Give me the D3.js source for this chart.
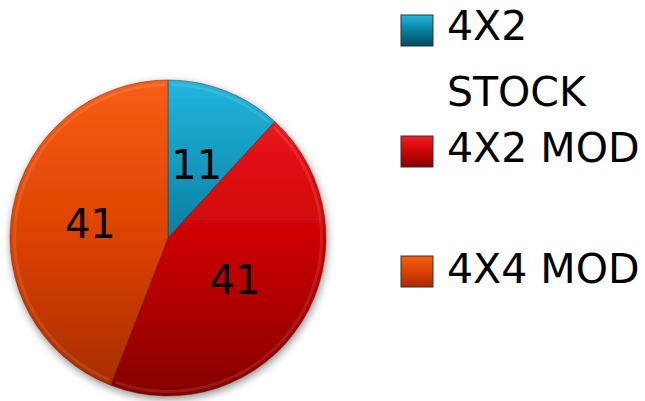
<!DOCTYPE html>
<html><head><meta charset="utf-8">
<script src="https://cdn.jsdelivr.net/npm/d3@7"></script>
<style>html,body{margin:0;padding:0;background:#fff;}svg{display:block;}</style>
</head><body>
<script>
const categories = ["4X2 STOCK", "4X2 MOD", "4X4 MOD"];
const values = [11, 41, 41];
const legendLines = [["4X2", "STOCK"], ["4X2 MOD"], ["4X4 MOD"]];
const palette = [
  ["#22b6dd", "#0a7fa0", "#004a62"],
  ["#f41c26", "#cc0404", "#860000"],
  ["#f75e16", "#dc4200", "#a42c00"]
];

const W = 645, H = 401;
const cx = 168, cy = 238, R = 158;
const svg = d3.select("body").append("svg").attr("width", W).attr("height", H);
const defs = svg.append("defs");

const f = defs.append("filter").attr("id", "sh").attr("x", "-20%").attr("y", "-20%").attr("width", "140%").attr("height", "140%");
f.append("feGaussianBlur").attr("in", "SourceAlpha").attr("stdDeviation", 4).attr("result", "b");
f.append("feOffset").attr("in", "b").attr("dx", 1).attr("dy", 3).attr("result", "o");
f.append("feComponentTransfer").attr("in", "o").attr("result", "o2")
  .append("feFuncA").attr("type", "linear").attr("slope", 0.45);
const m = f.append("feMerge");
m.append("feMergeNode").attr("in", "o2");
m.append("feMergeNode").attr("in", "SourceGraphic");

palette.forEach((p, i) => {
  const g = defs.append("linearGradient").attr("id", "g" + i)
    .attr("gradientUnits", "userSpaceOnUse")
    .attr("x1", 0).attr("y1", -R).attr("x2", 0).attr("y2", R);
  g.append("stop").attr("offset", 0).attr("stop-color", p[0]);
  g.append("stop").attr("offset", 0.5).attr("stop-color", p[1]);
  g.append("stop").attr("offset", 1).attr("stop-color", p[2]);
  const lg = defs.append("linearGradient").attr("id", "lg" + i)
    .attr("x1", 0).attr("y1", 0).attr("x2", 0).attr("y2", 1);
  lg.append("stop").attr("offset", 0).attr("stop-color", p[0]);
  lg.append("stop").attr("offset", 0.5).attr("stop-color", p[1]);
  lg.append("stop").attr("offset", 1).attr("stop-color", p[2]);
});

const pie = d3.pie().sort(null).value(d => d);
const arcs = pie(values);
const arc = d3.arc().innerRadius(0).outerRadius(R);
const labelArc = d3.arc().innerRadius(R * 0.5).outerRadius(R * 0.5);
const rimArc = d3.arc().innerRadius(R - 6).outerRadius(R - 3);

const gp = svg.append("g").attr("transform", `translate(${cx},${cy})`);
gp.append("g").attr("filter", "url(#sh)")
  .selectAll("path").data(arcs).join("path")
  .attr("d", arc)
  .attr("fill", (d, i) => `url(#g${i})`)
  .attr("stroke", "#5a1a00").attr("stroke-opacity", 0.55).attr("stroke-width", 0.8);

// subtle bevel highlight near rim
gp.append("g").selectAll("path").data(arcs).join("path")
  .attr("d", d => rimArc({startAngle: d.startAngle + 0.02, endAngle: d.endAngle - 0.02}))
  .attr("fill", "#fff").attr("opacity", 0.1);

gp.append("g").selectAll("text").data(arcs).join("text")
  .attr("transform", d => `translate(${labelArc.centroid(d)})`)
  .attr("text-anchor", "middle").attr("dy", "0.36em")
  .attr("font-family", "DejaVu Sans").attr("font-size", 40)
  .attr("fill", "#000")
  .text(d => d.data);

// legend
const legendTop = [15, 136, 256];
const baselines = [[40, 106], [162], [283]];
const lg = svg.append("g");
categories.forEach((c, i) => {
  lg.append("rect").attr("x", 401).attr("y", legendTop[i]).attr("width", 32).attr("height", 31)
    .attr("fill", `url(#lg${i})`).attr("stroke", "#333").attr("stroke-width", 1);
  legendLines[i].forEach((t, j) => {
    lg.append("text").attr("x", 447).attr("y", baselines[i][j])
      .attr("font-family", "DejaVu Sans").attr("font-size", 41).attr("fill", "#000")
      .text(t);
  });
});
</script>
</body></html>
